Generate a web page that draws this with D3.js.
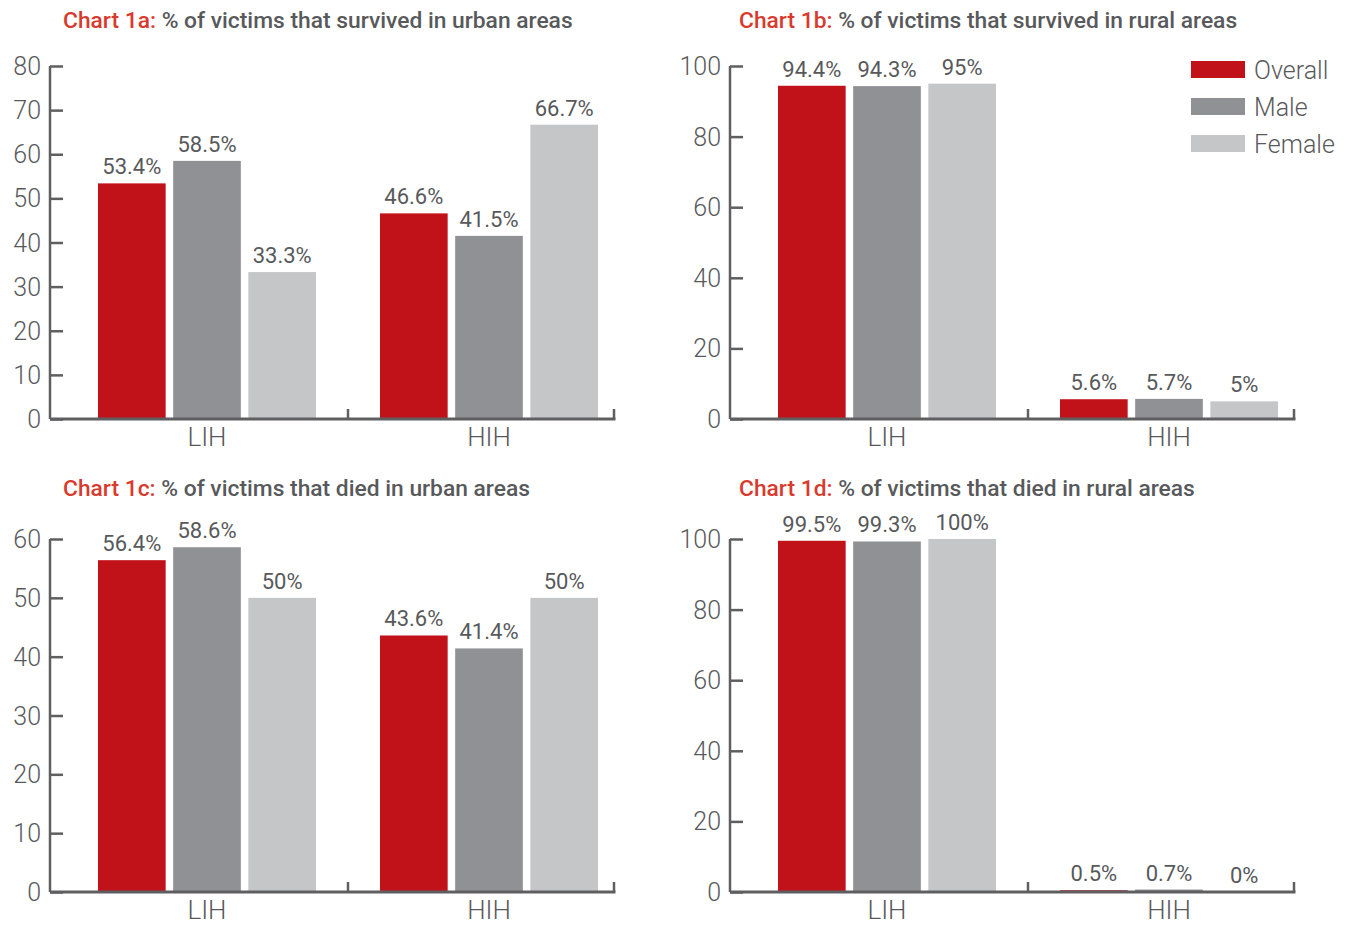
<!DOCTYPE html>
<html>
<head>
<meta charset="utf-8">
<script src="https://cdn.jsdelivr.net/npm/d3@7"></script>
<style>
  html, body { margin: 0; padding: 0; background: #fff; }
  svg { display: block; font-family: Roboto, "Noto Sans", sans-serif; }
</style>
</head>
<body>
<svg id="chart" width="1351" height="925"></svg>
<script>
// Income groups on the x axis and the three series in each group
const groups = ["LIH", "HIH"];
const seriesNames = ["Overall", "Male", "Female"];
const seriesColors = ["#c1121a", "#909195", "#c5c6c8"];

// Panel values (percent), one array per series: [LIH, HIH]
const survivedUrbanOverall = [53.4, 46.6];
const survivedUrbanMale    = [58.5, 41.5];
const survivedUrbanFemale  = [33.3, 66.7];

const survivedRuralOverall = [94.4, 5.6];
const survivedRuralMale    = [94.3, 5.7];
const survivedRuralFemale  = [95, 5];

const diedUrbanOverall = [56.4, 43.6];
const diedUrbanMale    = [58.6, 41.4];
const diedUrbanFemale  = [50, 50];

const diedRuralOverall = [99.5, 0.5];
const diedRuralMale    = [99.3, 0.7];
const diedRuralFemale  = [100, 0];

// Y axis tick values per panel
const ticksUrbanSurvived = [0, 10, 20, 30, 40, 50, 60, 70, 80];
const ticksRural = [0, 20, 40, 60, 80, 100];
const ticksUrbanDied = [0, 10, 20, 30, 40, 50, 60];

const panels = [
  { tag: "Chart 1a:", title: " % of victims that survived in urban areas",
    series: [survivedUrbanOverall, survivedUrbanMale, survivedUrbanFemale],
    ticks: ticksUrbanSurvived, x0: 50, top: 66, bottom: 419, titleX: 63, titleY: 28, legend: false },
  { tag: "Chart 1b:", title: " % of victims that survived in rural areas",
    series: [survivedRuralOverall, survivedRuralMale, survivedRuralFemale],
    ticks: ticksRural, x0: 730, top: 66, bottom: 419, titleX: 739, titleY: 28, legend: true },
  { tag: "Chart 1c:", title: " % of victims that died in urban areas",
    series: [diedUrbanOverall, diedUrbanMale, diedUrbanFemale],
    ticks: ticksUrbanDied, x0: 50, top: 539, bottom: 892, titleX: 63, titleY: 496, legend: false },
  { tag: "Chart 1d:", title: " % of victims that died in rural areas",
    series: [diedRuralOverall, diedRuralMale, diedRuralFemale],
    ticks: ticksRural, x0: 730, top: 539, bottom: 892, titleX: 739, titleY: 496, legend: false }
];

const svg = d3.select("#chart");
const axisColor = "#5f5f61";
const textColor = "#58595b";

function fmt(v) { return v + "%"; }

panels.forEach(p => {
  const g = svg.append("g");
  const axisLen = 564;
  const bandStart = p.x0 + 16;

  // Title: red prefix, grey description
  const t = g.append("text")
    .attr("x", p.titleX)
    .attr("y", p.titleY)
    .attr("font-size", 22.8)
    .attr("font-weight", 500);
  t.append("tspan").attr("fill", "#d83a2e").text(p.tag);
  t.append("tspan").attr("fill", textColor).text(p.title);

  const y = d3.scaleLinear()
    .domain([0, d3.max(p.ticks)])
    .range([p.bottom, p.top]);

  const x = d3.scaleBand()
    .domain(groups)
    .range([bandStart, bandStart + axisLen])
    .paddingInner(0)
    .paddingOuter(0);

  const inner = d3.scaleBand()
    .domain(seriesNames)
    .range([32, x.bandwidth() - 32])
    .paddingInner(0.1)
    .paddingOuter(0);

  // Y axis (ticks pointing inward)
  const yAxis = d3.axisRight(y)
    .tickValues(p.ticks)
    .tickSize(13)
    .tickFormat("");
  const ya = g.append("g").attr("transform", `translate(${p.x0},0)`).call(yAxis);
  ya.select(".domain").attr("stroke", axisColor).attr("stroke-width", 2.5)
    .attr("d", `M0,${p.top}V${p.bottom}`);
  ya.selectAll(".tick line").attr("stroke", axisColor).attr("stroke-width", 2.5);

  g.selectAll("text.ytick")
    .data(p.ticks)
    .join("text")
    .attr("class", "ytick")
    .attr("x", p.x0 - 9)
    .attr("y", d => y(d))
    .attr("dy", "0.36em")
    .attr("text-anchor", "end")
    .attr("font-size", 25)
    .attr("font-weight", 300)
    .attr("fill", textColor)
    .text(d => d);

  // Bars
  seriesNames.forEach((name, si) => {
    g.selectAll(`rect.s${si}`)
      .data(groups.map((grp, gi) => ({ grp, v: p.series[si][gi] })))
      .join("rect")
      .attr("class", `s${si}`)
      .attr("x", d => x(d.grp) + inner(name))
      .attr("width", inner.bandwidth())
      .attr("y", d => y(d.v))
      .attr("height", d => y(0) - y(d.v))
      .attr("fill", seriesColors[si]);

    g.selectAll(`text.l${si}`)
      .data(groups.map((grp, gi) => ({ grp, v: p.series[si][gi] })))
      .join("text")
      .attr("class", `l${si}`)
      .attr("x", d => x(d.grp) + inner(name) + inner.bandwidth() / 2)
      .attr("y", d => y(d.v) - 9)
      .attr("text-anchor", "middle")
      .attr("font-size", 22)
      .attr("fill", textColor)
      .text(d => fmt(d.v));
  });

  // X axis baseline with separators pointing up
  const sepX = [bandStart + x.bandwidth(), p.x0 + axisLen];
  g.append("line")
    .attr("x1", p.x0).attr("x2", p.x0 + axisLen + 1.5)
    .attr("y1", p.bottom).attr("y2", p.bottom)
    .attr("stroke", axisColor).attr("stroke-width", 3);
  g.selectAll("line.sep")
    .data(sepX)
    .join("line")
    .attr("class", "sep")
    .attr("x1", d => d).attr("x2", d => d)
    .attr("y1", p.bottom - 10).attr("y2", p.bottom)
    .attr("stroke", axisColor).attr("stroke-width", 2.5);

  g.selectAll("text.xlab")
    .data(groups)
    .join("text")
    .attr("class", "xlab")
    .attr("x", d => x(d) + x.bandwidth() / 2)
    .attr("y", p.bottom + 27)
    .attr("text-anchor", "middle")
    .attr("font-size", 26)
    .attr("font-weight", 300)
    .attr("fill", textColor)
    .text(d => d);

  // Legend
  if (p.legend) {
    const lg = g.append("g").attr("transform", "translate(1191,61)");
    seriesNames.forEach((name, i) => {
      lg.append("rect")
        .attr("x", 0).attr("y", i * 37)
        .attr("width", 54).attr("height", 17)
        .attr("fill", seriesColors[i]);
      lg.append("text")
        .attr("x", 63).attr("y", i * 37 + 9)
        .attr("dy", "0.36em")
        .attr("font-size", 25)
        .attr("font-weight", 300)
        .attr("fill", textColor)
        .text(name);
    });
  }
});
</script>
</body>
</html>
